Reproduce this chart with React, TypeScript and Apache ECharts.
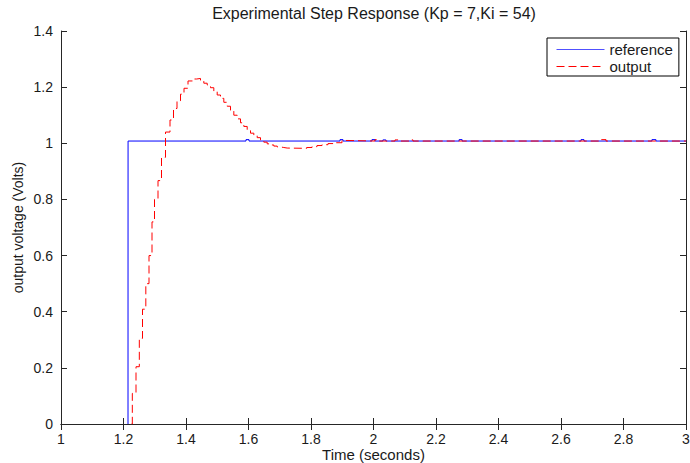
import React, { useEffect, useRef } from "react";
import * as echarts from "echarts";

// Reference (step command) staircase: time [s] and value [V]
const refTime = [1.2144, 1.2146, 1.592, 1.6016, 1.8928, 1.9024, 1.995, 2.0046, 2.03, 2.0396, 2.274, 2.2836, 2.664, 2.6736, 2.891, 2.9038, 3.0];
const refValue = [0, 1.008, 1.013, 1.008, 1.013, 1.008, 1.013, 1.008, 1.012, 1.008, 1.013, 1.008, 1.013, 1.008, 1.013, 1.008, 1.008];

// Measured output staircase: time [s] and value [V]
const outTime = [
  1.2256, 1.2282, 1.24, 1.2506, 1.2608, 1.2714, 1.2816, 1.2912, 1.2992, 1.3104,
  1.3216, 1.3344, 1.3488, 1.36, 1.3712, 1.3824, 1.3936, 1.4064, 1.4234, 1.4342,
  1.4464, 1.457, 1.4678, 1.4784, 1.489, 1.4998, 1.5104, 1.521, 1.5318, 1.5424,
  1.553, 1.5638, 1.5744, 1.585, 1.5958, 1.6064, 1.617, 1.6278, 1.6384, 1.649,
  1.6598, 1.6704, 1.681, 1.6918, 1.7024, 1.713, 1.7238, 1.7862, 1.8032, 1.8192,
  1.8352, 1.8544, 1.8768, 1.8992, 1.9184, 2.0048, 2.0144, 2.0688, 2.0784, 2.1168,
  2.1264, 2.7248, 2.744, 3.0,
];
const outValue = [
  0, 0.109, 0.204, 0.305, 0.409, 0.5, 0.6, 0.72, 0.8, 0.867,
  0.95, 1.04, 1.083, 1.124, 1.151, 1.175, 1.196, 1.222, 1.229, 1.231,
  1.222, 1.214, 1.208, 1.198, 1.185, 1.172, 1.16, 1.146, 1.132, 1.115,
  1.1, 1.087, 1.073, 1.06, 1.048, 1.036, 1.028, 1.02, 1.012, 1.004,
  0.998, 0.994, 0.99, 0.987, 0.985, 0.983, 0.982, 0.985, 0.988, 0.992,
  0.995, 0.999, 1.002, 1.01, 1.008, 1.013, 1.008, 1.012, 1.008, 1.012,
  1.008, 1.013, 1.008, 1.008,
];

const seriesNames = ["reference", "output"];
const seriesColors = ["#0000ff", "#ff0000"];
const titleText = "Experimental Step Response (Kp = 7,Ki = 54)";
const xName = "Time (seconds)";
const yName = "output voltage (Volts)";

const FONT = "Arial, 'Liberation Sans', Helvetica, sans-serif";
const AXIS_COLOR = "#262626";
const TEXT_COLOR = "#1a1a1a";
const OUT_DASH = [8, 4];

const fmt = (v: number) => String(parseFloat(v.toFixed(1)));

export default function App() {
  const ref = useRef<HTMLDivElement>(null);

  useEffect(() => {
    document.body.style.margin = "0";
    if (!ref.current) return;
    const chart = echarts.init(ref.current, undefined, { renderer: "svg" });

    const axisCommon = {
      axisLine: { show: true, lineStyle: { color: AXIS_COLOR, width: 1 } },
      axisTick: { show: true, inside: true, length: 6, lineStyle: { color: AXIS_COLOR } },
      splitLine: { show: false },
    };

    chart.setOption({
      animation: false,
      backgroundColor: "#ffffff",
      textStyle: { fontFamily: FONT },
      title: {
        text: titleText,
        left: 374,
        textAlign: "center",
        top: 5,
        padding: 0,
        textStyle: { fontFamily: FONT, fontSize: 16, fontWeight: "normal", color: TEXT_COLOR },
      },
      legend: {
        data: [
          {
            name: seriesNames[0],
            itemStyle: { opacity: 0 },
            lineStyle: { color: "#5050ff", width: 1, type: "solid", opacity: 1 },
          },
          {
            name: seriesNames[1],
            itemStyle: { opacity: 0 },
            lineStyle: { color: seriesColors[1], width: 1, type: OUT_DASH },
          },
        ],
        orient: "vertical",
        left: 547,
        top: 38,
        padding: [4, 6, 2, 9],
        itemGap: 2,
        itemWidth: 48,
        itemHeight: 14,
        backgroundColor: "#ffffff",
        borderColor: "#000000",
        borderWidth: 1,
        borderRadius: 0,
        selectedMode: false,
        textStyle: { fontFamily: FONT, fontSize: 15, color: TEXT_COLOR },
      },
      grid: { left: 61, right: 4, top: 31, bottom: 39, containLabel: false, outerBoundsMode: "none" },
      xAxis: [
        {
          type: "value",
          position: "bottom",
          min: 1,
          max: 3,
          interval: 0.2,
          name: xName,
          nameLocation: "middle",
          nameGap: 23,
          nameMoveOverlap: false,
          nameTextStyle: { fontFamily: FONT, fontSize: 15, lineHeight: 15, color: TEXT_COLOR },
          axisLabel: { formatter: fmt, fontFamily: FONT, fontSize: 14, lineHeight: 14, color: TEXT_COLOR, margin: 8 },
          ...axisCommon,
        },
        {
          type: "value",
          position: "top",
          min: 1,
          max: 3,
          interval: 0.2,
          axisLabel: { show: false },
          ...axisCommon,
        },
      ],
      yAxis: [
        {
          type: "value",
          position: "left",
          min: 0,
          max: 1.4,
          interval: 0.2,
          name: yName,
          nameLocation: "middle",
          nameGap: 36,
          nameMoveOverlap: false,
          nameTextStyle: { fontFamily: FONT, fontSize: 14, color: TEXT_COLOR },
          axisLabel: { formatter: fmt, fontFamily: FONT, fontSize: 14, color: TEXT_COLOR, margin: 8 },
          ...axisCommon,
        },
        {
          type: "value",
          position: "right",
          min: 0,
          max: 1.4,
          interval: 0.2,
          axisLabel: { show: false },
          ...axisCommon,
        },
      ],
      series: [
        {
          name: seriesNames[0],
          type: "line",
          xAxisIndex: 0,
          yAxisIndex: 0,
          step: "end",
          symbol: "none",
          data: refTime.map((t, i) => [t, refValue[i]]),
          lineStyle: { color: seriesColors[0], width: 1 },
          itemStyle: { color: seriesColors[0] },
        },
        {
          name: seriesNames[1],
          type: "line",
          xAxisIndex: 0,
          yAxisIndex: 0,
          step: "end",
          symbol: "none",
          data: outTime.map((t, i) => [t, outValue[i]]),
          lineStyle: { color: seriesColors[1], width: 1, type: OUT_DASH },
          itemStyle: { color: seriesColors[1] },
        },
      ],
    });

    return () => chart.dispose();
  }, []);

  return <div ref={ref} style={{ width: 690, height: 463 }} />;
}
